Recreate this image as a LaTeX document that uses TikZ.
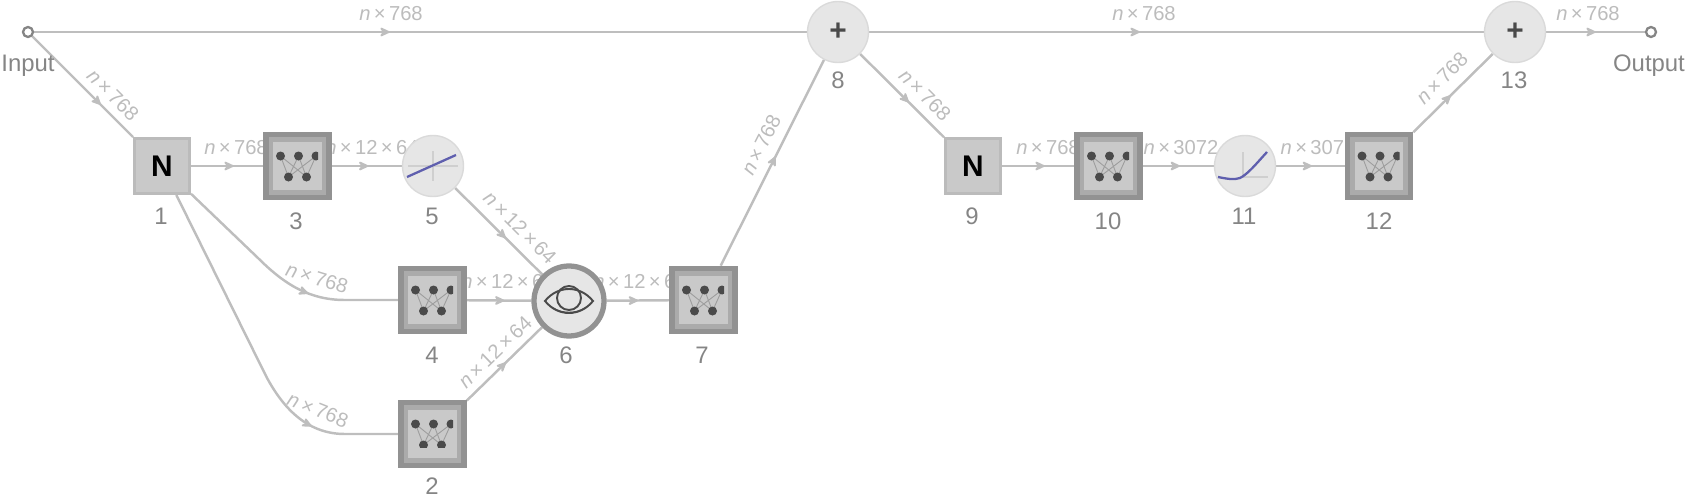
\documentclass[tikz,border=0pt]{standalone}
\usepackage{fontspec}
\setmainfont{Liberation Sans}
\usetikzlibrary{arrows.meta,decorations.markings}
\definecolor{edgegray}{HTML}{BEBEBE}
\definecolor{dimgray}{HTML}{BCBCBC}
\definecolor{numgray}{HTML}{858585}
\definecolor{boxfill}{HTML}{C9C9C9}
\definecolor{boxline}{HTML}{BBBBBB}
\definecolor{netline}{HTML}{929292}
\definecolor{netring}{HTML}{ABABAB}
\definecolor{dotgray}{HTML}{4A4A4A}
\definecolor{rampblue}{HTML}{5F5FAE}
\definecolor{circfill}{HTML}{E6E6E6}
\definecolor{circline}{HTML}{DADADA}
\definecolor{axisgray}{HTML}{CFCFCF}
\pgfdeclarelayer{edgelayer}
\pgfsetlayers{edgelayer,main}
\tikzset{
	flow/.style={edgegray, line width=1.4pt, postaction={decorate},
		decoration={markings, mark=at position #1 with {\arrow{Stealth[length=7.5pt,width=7pt,inset=3pt,round]}}}},
	dimlabel/.style={text=dimgray, font=\fontsize{11.5}{12}\selectfont, inner sep=0pt},
	numlabel/.style={text=numgray, font=\fontsize{13.6}{15}\selectfont, inner sep=0pt},
	port/.style={circle, draw=numgray, fill=white, line width=1.3pt, minimum size=0.2cm, inner sep=0pt},
	normbox/.style={rectangle, draw=boxline, fill=boxfill, line width=1.7pt, minimum size=1.1cm, inner sep=0pt, font=\bfseries\fontsize{17}{17}\selectfont},
	netbox/.style={rectangle, draw=netline, fill=boxfill, line width=3.2pt, minimum size=1.26cm, inner sep=0pt,
		path picture={\draw[netring, line width=8.5pt] (path picture bounding box.south west) rectangle (path picture bounding box.north east);}},
	opcirc/.style={circle, draw=circline, fill=circfill, line width=0.8pt, minimum size=1.22cm, inner sep=0pt, text=dotgray, font=\bfseries\fontsize{17}{17}\selectfont},
	eyecirc/.style={circle, draw=netline, fill=circfill, line width=3pt, minimum size=1.4cm, inner sep=0pt}
}
\newcommand{\nxdim}[1]{\textit{n}\,×\,#1}
\newcommand{\neticon}[2]{
	\begin{scope}[shift={(#1)}]
		\clip (-24,16) rectangle (20.5,#2);
		\foreach \t in {-17,1,18.5}
			\foreach \b in {-9,9}
				\draw [dotgray!55, line width=0.5pt] (\t,10) -- (\b,-11);
		\foreach \t in {-17,1,18.5}
			\fill [dotgray] (\t,10) circle (4.5);
		\foreach \b in {-9,9}
			\fill [dotgray] (\b,-11) circle (4.5);
	\end{scope}
}
\begin{document}
\begin{tikzpicture}[x=0.02cm,y=0.02cm]
		\useasboundingbox (0,0) rectangle (1688,-497);
		\node [port] (in) at (28,-32) {};
		\node [port] (out) at (1651,-32) {};
		\node [normbox] (n1) at (162,-166) {N};
		\node [netbox] (n2) at (432.5,-434) {};
		\node [netbox] (n3) at (297.5,-166) {};
		\node [netbox] (n4) at (432.5,-300) {};
		\node [opcirc] (n5) at (433,-166) {};
		\node [eyecirc] (n6) at (569,-301) {};
		\node [netbox] (n7) at (703.5,-300) {};
		\node [opcirc] (n8) at (838,-32) {+};
		\node [normbox] (n9) at (973,-166) {N};
		\node [netbox] (n10) at (1108.5,-166) {};
		\node [opcirc] (n11) at (1245,-166) {};
		\node [netbox] (n12) at (1379,-166) {};
		\node [opcirc] (n13) at (1515,-32) {+};
		\neticon{n2}{-13.5}
		\neticon{n3}{-17}
		\neticon{n4}{-17}
		\neticon{n7}{-17}
		\neticon{n10}{-17}
		\neticon{n12}{-17}
		\draw [axisgray, line width=0.7pt] (408,-166) -- (458,-166);
		\draw [axisgray, line width=0.7pt] (433,-151) -- (433,-181);
		\draw [rampblue, line width=1.3pt] (407,-177) -- (456,-155);
		\draw [axisgray, line width=0.7pt] (1243,-152) -- (1243,-177) -- (1268,-177);
		\draw [rampblue, line width=1.3pt] (1218,-177) .. controls (1228,-179) and (1234,-180) .. (1240,-178) .. controls (1248,-174) and (1256,-164) .. (1267,-152);
		\draw [dotgray, line width=1.1pt] (545,-301) .. controls (558,-317) and (580,-317) .. (593,-301) .. controls (580,-285) and (558,-285) .. cycle;
		\draw [dotgray, line width=1.1pt] (569,-298) circle (12);
		\draw [dotgray, line width=0.8pt] (553,-308) .. controls (562,-314) and (576,-314) .. (585,-308);
		\node [numlabel] (num1) at (161,-216) {1};
		\node [numlabel] (num2) at (432,-486) {2};
		\node [numlabel] (num3) at (296,-221) {3};
		\node [numlabel] (num4) at (432,-355) {4};
		\node [numlabel] (num5) at (432,-216) {5};
		\node [numlabel] (num6) at (566,-355) {6};
		\node [numlabel] (num7) at (702,-355) {7};
		\node [numlabel] (num8) at (838,-80) {8};
		\node [numlabel] (num9) at (972,-216) {9};
		\node [numlabel] (num10) at (1108,-221) {10};
		\node [numlabel] (num11) at (1244,-216) {11};
		\node [numlabel] (num12) at (1379,-221) {12};
		\node [numlabel] (num13) at (1514,-80) {13};
		\node [numlabel] (inlabel) at (28,-66) {Input};
		\node [numlabel] (outlabel) at (1649,-66) {Output};
		\begin{pgfonlayer}{edgelayer}
			\coordinate (bendd) at (258,-258);
			\coordinate (flatd) at (345,-300);
			\coordinate (bendb) at (266,-376);
			\coordinate (flatb) at (345,-434);
			\draw [flow=0.46] (in) -- (n8);
			\draw [flow=0.68] (in) -- (n1);
			\draw [flow=0.59] (n1) -- (n3);
			\draw [flow=0.63] (n1) -- (bendd) .. controls (285,-285) and (310,-300) .. (flatd) -- (n4);
			\draw [flow=0.755] (n1) -- (bendb) .. controls (285,-412) and (310,-434) .. (flatb) -- (n2);
			\draw [flow=0.52] (n3) -- (n5);
			\draw [flow=0.58] (n5) -- (n6);
			\draw [flow=0.58] (n4) -- (n6);
			\draw [flow=0.52] (n2) -- (n6);
			\draw [flow=0.5] (n6) -- (n7);
			\draw [flow=0.53] (n7) -- (n8);
			\draw [flow=0.44] (n8) -- (n13);
			\draw [flow=0.58] (n8) -- (n9);
			\draw [flow=0.59] (n9) -- (n10);
			\draw [flow=0.52] (n10) -- (n11);
			\draw [flow=0.52] (n11) -- (n12);
			\draw [flow=0.47] (n12) -- (n13);
			\draw [flow=0.5] (n13) -- (out);
			\node [dimlabel] (d1) at (391,-14) {\nxdim{768}};
			\node [dimlabel, rotate=-45] (d2) at (113,-95) {\nxdim{768}};
			\node [dimlabel] (d3) at (236,-148) {\nxdim{768}};
			\node [dimlabel, rotate=-17] (d4) at (317,-278) {\nxdim{768}};
			\node [dimlabel, rotate=-22] (d5) at (318,-410) {\nxdim{768}};
			\node [dimlabel] (d6) at (372,-148) {\nxdim{12\,×\,64}};
			\node [dimlabel, rotate=-45] (d7) at (520,-228) {\nxdim{12\,×\,64}};
			\node [dimlabel] (d8) at (508,-282) {\nxdim{12\,×\,64}};
			\node [dimlabel, rotate=44] (d9) at (495,-352) {\nxdim{12\,×\,64}};
			\node [dimlabel] (d10) at (640,-282) {\nxdim{12\,×\,64}};
			\node [dimlabel, rotate=63] (d11) at (761,-145) {\nxdim{768}};
			\node [dimlabel] (d12) at (1144,-14) {\nxdim{768}};
			\node [dimlabel, rotate=-45] (d13) at (925,-95) {\nxdim{768}};
			\node [dimlabel] (d14) at (1048,-148) {\nxdim{768}};
			\node [dimlabel] (d15) at (1181,-148) {\nxdim{3072}};
			\node [dimlabel] (d16) at (1318,-148) {\nxdim{3072}};
			\node [dimlabel, rotate=45] (d17) at (1442,-78) {\nxdim{768}};
			\node [dimlabel] (d18) at (1588,-14) {\nxdim{768}};
		\end{pgfonlayer}
	\end{tikzpicture}
\end{document}
